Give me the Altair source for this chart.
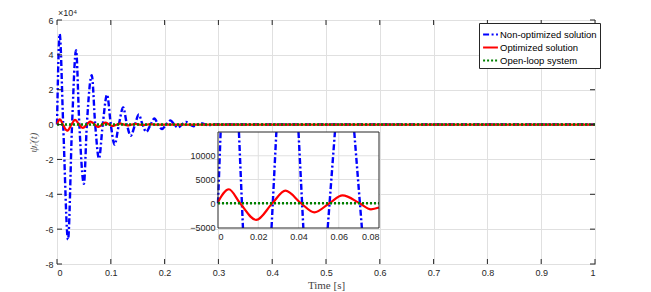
import altair as alt
import pandas as pd

# ---------------- data ----------------
SERIES = ["Non-optimized solution", "Optimized solution", "Open-loop system"]
COLORS = ["#0000ff", "#ff0000", "#008000"]

BLUE_T = [0, 0.005, 0.0115, 0.0205, 0.028, 0.0354, 0.0415, 0.050, 0.0555, 0.0646,
          0.071, 0.078, 0.085, 0.093, 0.100, 0.107, 0.115, 0.123, 0.130, 0.137,
          0.145, 0.152, 0.159, 0.166, 0.174, 0.181, 0.188, 0.195, 0.203, 0.211,
          0.218, 0.225, 0.232, 0.240, 0.247, 0.254, 0.261, 0.268, 0.275, 0.282,
          0.29, 0.30, 1.0]
BLUE_V = [0, 52000, 0, -66000, 0, 42700, 0, -34000, 0, 28300,
          0, -19500, 0, 17200, 0, -11500, 0, 9800, 0, -6500,
          0, 5800, 0, -4200, 0, 3500, 0, -2500, 0, 2400,
          0, -1700, 0, 1500, 0, -1000, 0, 800, 0, -400,
          0, 0, 0]

RED_T = [0, 0.0054, 0.011, 0.019, 0.027, 0.0335, 0.0413, 0.0479, 0.0553, 0.0619,
         0.0704, 0.076, 0.080, 0.084, 0.090, 0.097, 0.104, 0.111, 0.118, 0.125,
         0.132, 0.139, 0.146, 0.153, 0.160, 0.167, 0.174, 0.181, 0.19, 1.0]
RED_V = [300, 2950, 0, -3500, 0, 2650, 0, -1900, 0, 1650,
         0, -1270, -900, 0, 1100, 0, -800, 0, 600, 0,
         -450, 0, 350, 0, -250, 0, 150, 0, 0, 0]

GREEN_T = [0, 1.0]
GREEN_V = [0, 0]

# blue segments visible inside the inset (enter / leave the inset frame)
INSET_BLUE_SEG = [1, 1, 2, 2, 3, 3, 4, 4, 5, 5, 6, 6]
INSET_BLUE_T = [0, 0.0013, 0.0104, 0.0124, 0.0266, 0.0290, 0.0400, 0.0424,
                0.0545, 0.0581, 0.0677, 0.0715]
INSET_BLUE_V = [0, 15000, 15000, -5200, -5200, 15000, 15000, -5200,
                -5200, 15000, 15000, -5200]

X_TICKS = [0, 0.1, 0.2, 0.3, 0.4, 0.5, 0.6, 0.7, 0.8, 0.9, 1.0]
Y_TICKS = [-80000, -60000, -40000, -20000, 0, 20000, 40000, 60000]
INSET_X_TICKS = [0, 0.02, 0.04, 0.06, 0.08]
INSET_Y_TICKS = [-5000, 0, 5000, 10000]
INSET_X_DOMAIN = [0, 0.08]
INSET_Y_DOMAIN = [-5200, 15000]

# ---------------- tables ----------------
blue = pd.DataFrame({"t": BLUE_T, "v": BLUE_V, "series": SERIES[0]})
red = pd.DataFrame({"t": RED_T, "v": RED_V, "series": SERIES[1]})
green = pd.DataFrame({"t": GREEN_T, "v": GREEN_V, "series": SERIES[2]})
inset_blue = pd.DataFrame({"t": INSET_BLUE_T, "v": INSET_BLUE_V, "seg": INSET_BLUE_SEG})
xt = pd.DataFrame({"t": X_TICKS})
yt = pd.DataFrame({"v": Y_TICKS})

W, H = 538, 244
DARK = "#262626"
GRID = "#e0e0e0"
SANS = "Liberation Sans"
SERIF = "Liberation Serif"

xs = alt.Scale(domain=[0, 1], nice=False, zero=False)
ys = alt.Scale(domain=[-80000, 60000], nice=False, zero=False)
xaxis = alt.Axis(values=X_TICKS, grid=True, gridColor=GRID, ticks=False, domain=False,
                 title="Time [s]", titleFont=SERIF, titleFontWeight="normal",
                 titleFontSize=11, titleColor="#444", titlePadding=2,
                 labelFont=SANS, labelFontSize=9, labelColor=DARK, labelPadding=4,
                 format="g")
yaxis = alt.Axis(values=Y_TICKS, grid=True, gridColor=GRID, ticks=False, domain=False,
                 title="ψ̇ᵣ(t)", titleFont=SERIF, titleFontStyle="italic",
                 titleFontWeight="normal", titleFontSize=11, titleColor="#555",
                 titlePadding=6, labelFont=SANS, labelFontSize=9, labelColor=DARK,
                 labelPadding=4, labelExpr="datum.value / 10000")
X = alt.X("t:Q", scale=xs, axis=xaxis)
Y = alt.Y("v:Q", scale=ys, axis=yaxis)

cscale = alt.Scale(domain=SERIES, range=COLORS)
dscale = alt.Scale(domain=SERIES, range=[[6, 2.5, 2, 2.5], [1, 0], [2, 2]])
leg = alt.Legend(title=None, orient="none", legendX=422, legendY=3,
                 fillColor="white", strokeColor=DARK, padding=3, cornerRadius=0,
                 symbolType="stroke", symbolStrokeWidth=2, symbolSize=220,
                 labelFont=SANS, labelFontSize=9.5, labelColor="black",
                 labelOffset=1, rowPadding=0)
C = alt.Color("series:N", scale=cscale, legend=leg)
D = alt.StrokeDash("series:N", scale=dscale, legend=leg)

main_blue = alt.Chart(blue).mark_line(strokeWidth=2.4, interpolate="monotone").encode(
    x=X, y=Y, color=C, strokeDash=D)
main_red = alt.Chart(red).mark_line(strokeWidth=2.2, interpolate="monotone").encode(
    x=X, y=Y, color=C, strokeDash=D)
main_green = alt.Chart(green).mark_line(strokeWidth=2.5).encode(
    x=X, y=Y, color=C, strokeDash=D)

tick_bottom = alt.Chart(xt).mark_rule(color=DARK).encode(x=X, y=alt.value(H), y2=alt.value(H - 5))
tick_top = alt.Chart(xt).mark_rule(color=DARK).encode(x=X, y=alt.value(0), y2=alt.value(5))
tick_left = alt.Chart(yt).mark_rule(color=DARK).encode(y=Y, x=alt.value(0), x2=alt.value(5))
tick_right = alt.Chart(yt).mark_rule(color=DARK).encode(y=Y, x=alt.value(W), x2=alt.value(W - 5))

exp_df = pd.DataFrame({"t": [0], "v": [60000], "txt": ["×10⁴"]})
exponent = alt.Chart(exp_df).mark_text(align="left", baseline="bottom", dy=-2, dx=1,
                                       font=SANS, fontSize=9, color=DARK).encode(
    x=X, y=Y, text="txt:N")

main = alt.layer(main_blue, main_red, main_green, tick_bottom, tick_top, tick_left,
                 tick_right, exponent)

# ---------------- inset ----------------
ixs = alt.Scale(domain=INSET_X_DOMAIN, range=[161, 322], nice=False, zero=False)
iys = alt.Scale(domain=INSET_Y_DOMAIN, range=[208, 112], nice=False, zero=False)
ixaxis = alt.Axis(values=INSET_X_TICKS, orient="bottom", offset=-36, grid=False,
                  ticks=False, domain=False, title=None, zindex=1, labelFont=SANS,
                  labelFontSize=9, labelColor=DARK, labelPadding=4, format="g")
iyaxis = alt.Axis(values=INSET_Y_TICKS, orient="left", offset=-161, grid=False,
                  ticks=False, domain=False, title=None, zindex=1, labelFont=SANS,
                  labelFontSize=9, labelColor=DARK, labelPadding=3, format="d")
IX = alt.X("t:Q", scale=ixs, axis=ixaxis)
IY = alt.Y("v:Q", scale=iys, axis=iyaxis)

frame_df = pd.DataFrame({"t": [INSET_X_DOMAIN[0]], "t2": [INSET_X_DOMAIN[1]],
                         "v": [INSET_Y_DOMAIN[0]], "v2": [INSET_Y_DOMAIN[1]]})
inset_bg = alt.Chart(frame_df).mark_rect(fill="white").encode(x=IX, x2="t2:Q", y=IY, y2="v2:Q")
inset_frame = alt.Chart(frame_df).mark_rect(fill=None, stroke=DARK, strokeWidth=1).encode(
    x=IX, x2="t2:Q", y=IY, y2="v2:Q")

gx = pd.DataFrame({"t": INSET_X_TICKS[1:-1], "v": INSET_Y_DOMAIN[0], "v2": INSET_Y_DOMAIN[1]})
gy = pd.DataFrame({"v": INSET_Y_TICKS[1:], "t": INSET_X_DOMAIN[0], "t2": INSET_X_DOMAIN[1]})
inset_gx = alt.Chart(gx).mark_rule(color=GRID).encode(x=IX, y=IY, y2="v2:Q")
inset_gy = alt.Chart(gy).mark_rule(color=GRID).encode(y=IY, x=IX, x2="t2:Q")

inset_b = alt.Chart(inset_blue).mark_line(color=COLORS[0], strokeWidth=2.4,
                                          strokeDash=[6, 2.5, 2, 2.5]).encode(
    x=IX, y=IY, detail="seg:N")
inset_r = alt.Chart(red).transform_filter(alt.datum.t <= 0.08).mark_line(
    color=COLORS[1], strokeWidth=2.2, interpolate="monotone").encode(x=IX, y=IY)
inset_g = alt.Chart(pd.DataFrame({"t": INSET_X_DOMAIN, "v": [0, 0]})).mark_line(
    color=COLORS[2], strokeWidth=2.5, strokeDash=[2, 2]).encode(x=IX, y=IY)

inset = alt.layer(inset_bg, inset_gx, inset_gy, inset_b, inset_r, inset_g, inset_frame)

chart = alt.layer(main, inset).resolve_scale(
    x="independent", y="independent"
).resolve_axis(x="independent", y="independent").properties(
    width=W, height=H,
    autosize=alt.AutoSizeParams(type="none"),
    padding={"left": 49, "top": 12, "right": 40, "bottom": 30},
    background="white",
).configure_view(stroke=DARK, strokeWidth=1)

chart.save("out.html", embed_options={"renderer": "svg", "actions": False})
